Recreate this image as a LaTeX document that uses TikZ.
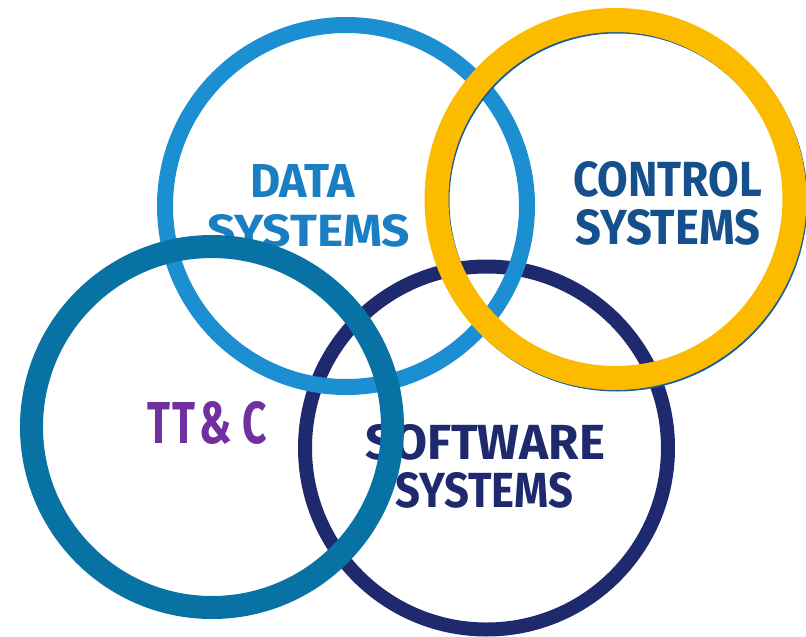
\documentclass[tikz,border=0pt]{standalone}
\usepackage{fontspec}
\usepackage{graphicx}
\newfontfamily\lblfont{Fira Sans}
\definecolor{dataring}{HTML}{1B8FD2}
\definecolor{datatext}{HTML}{1A7FC2}
\definecolor{ctrlring}{HTML}{FDBB00}
\definecolor{ctrlshade}{HTML}{1B5E9B}
\definecolor{ctrltext}{HTML}{16508C}
\definecolor{softring}{HTML}{1F2A6E}
\definecolor{ttcring}{HTML}{0872A4}
\definecolor{ttctext}{HTML}{7030A0}
% one label line squeezed to a given width and cap height
\newcommand{\fitline}[3]{\resizebox{#1}{#2}{\lblfont\bfseries #3}}
\begin{document}
\begin{tikzpicture}[x=1pt,y=-1pt,
  ring/.style={circle,draw,inner sep=0pt,fill=none},
  lbl/.style={anchor=south west,inner sep=0pt,outer sep=0pt}]
\useasboundingbox[fill=white] (0,0) rectangle (806,637);
% rings, back to front
\node[ring,draw=softring,line width=14pt,minimum size=363pt] (soft) at (486.5,448) {};
\node[ring,draw=dataring,line width=16pt,minimum size=362pt] (data) at (346,206) {};
\node[ring,draw=ctrlshade,line width=23pt,minimum size=358pt] (ctrlshadow) at (617,201) {};
\node[ring,draw=ctrlring,line width=24pt,minimum size=358pt] (ctrl) at (615.5,199) {};
% labels
\node[lbl,text=datatext] (dataA) at (250,197) {\fitline{105pt}{33pt}{DATA}};
\node[lbl,text=datatext] (dataB) at (207,247) {\fitline{203pt}{32pt}{SYSTEMS}};
\node[lbl,text=ctrltext] (ctrlA) at (573,197) {\fitline{189pt}{35pt}{CONTROL}};
\node[lbl,text=ctrltext] (ctrlB) at (575,245) {\fitline{185pt}{35pt}{SYSTEMS}};
\node[lbl,text=softring] (softA) at (365,460) {\fitline{240pt}{35pt}{SOFTWARE}};
\node[lbl,text=softring] (softB) at (395,508) {\fitline{178pt}{35pt}{SYSTEMS}};
% front ring and its label
\node[ring,draw=ttcring,line width=23pt,minimum size=361pt] (ttc) at (212,427) {};
\node[lbl,text=ttctext] (ttclabel) at (147,445) {\resizebox{120pt}{42pt}{\lblfont\bfseries T\kern0.06em T\kern0.1em\&\kern0.25em C}};
\end{tikzpicture}
\end{document}
